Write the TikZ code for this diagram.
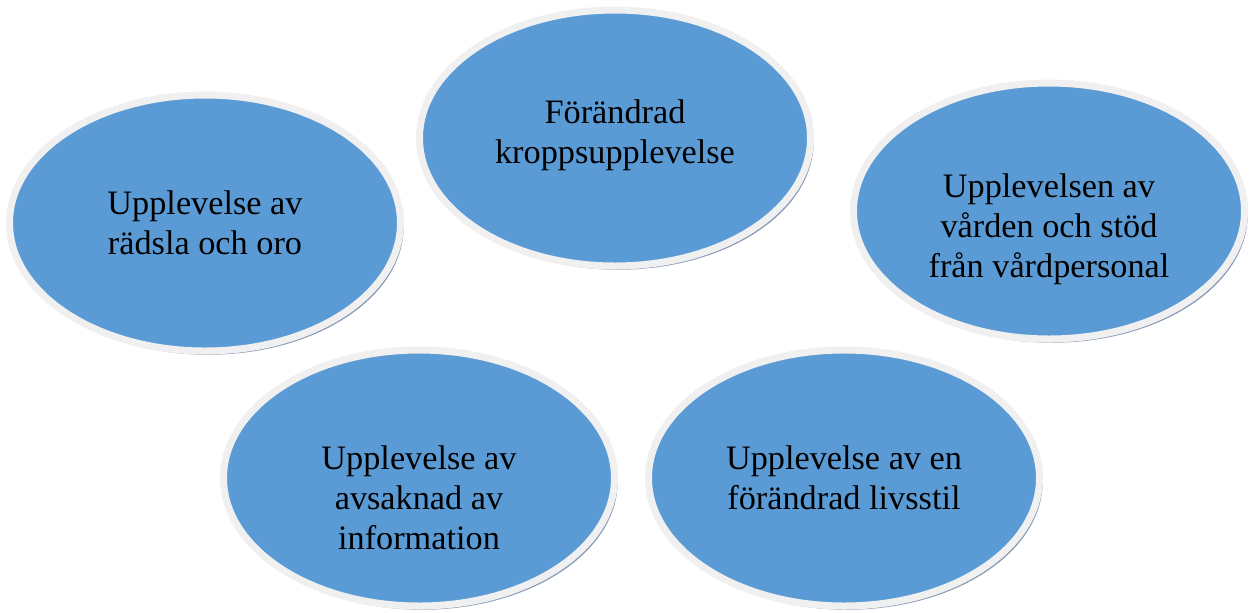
\documentclass[tikz,border=0pt]{standalone}
\usepackage{fontspec}
\setmainfont{Liberation Serif}
\usetikzlibrary{shapes.geometric,shadows}

\definecolor{bubbleblue}{RGB}{91,155,213}
\definecolor{ringgray}{RGB}{240,240,240}
\definecolor{shadowblue}{RGB}{135,155,182}

\tikzset{
  bubble/.style={ellipse, minimum width=293.25pt, minimum height=192pt, inner sep=0pt,
    fill=bubbleblue, draw=ringgray, line width=5.25pt,
    drop shadow={shadow xshift=2.4pt, shadow yshift=-2.8pt, fill=shadowblue, opacity=1}},
  bubbletext/.style={align=center, font=\fontsize{25.7}{30}\selectfont, text=black}
}

\begin{document}
\begin{tikzpicture}[x=0.75pt, y=-0.75pt]
    \useasboundingbox (0,0) rectangle (1253,612);

    % the five bubbles
    \node[bubble] (fear) at (205,223) {};
    \node[bubble] (body) at (615,138) {};
    \node[bubble] (care) at (1049,211) {};
    \node[bubble] (info) at (419,478) {};
    \node[bubble] (life) at (844,478) {};

    % texts
    \node[bubbletext] (feartext) at (fear.center) {Upplevelse av\\rädsla och oro};
    \node[bubbletext] (bodytext) at ([yshift=2pt]body.center) {Förändrad\\kroppsupplevelse};
    \node[bubbletext] (caretext) at ([yshift=-14pt]care.center) {Upplevelsen av\\vården och stöd\\från vårdpersonal};
    \node[bubbletext] (infotext) at ([yshift=-15pt]info.center) {Upplevelse av\\avsaknad av\\information};
    \node[bubbletext] (lifetext) at (life.center) {Upplevelse av en\\förändrad livsstil};
\end{tikzpicture}
\end{document}
